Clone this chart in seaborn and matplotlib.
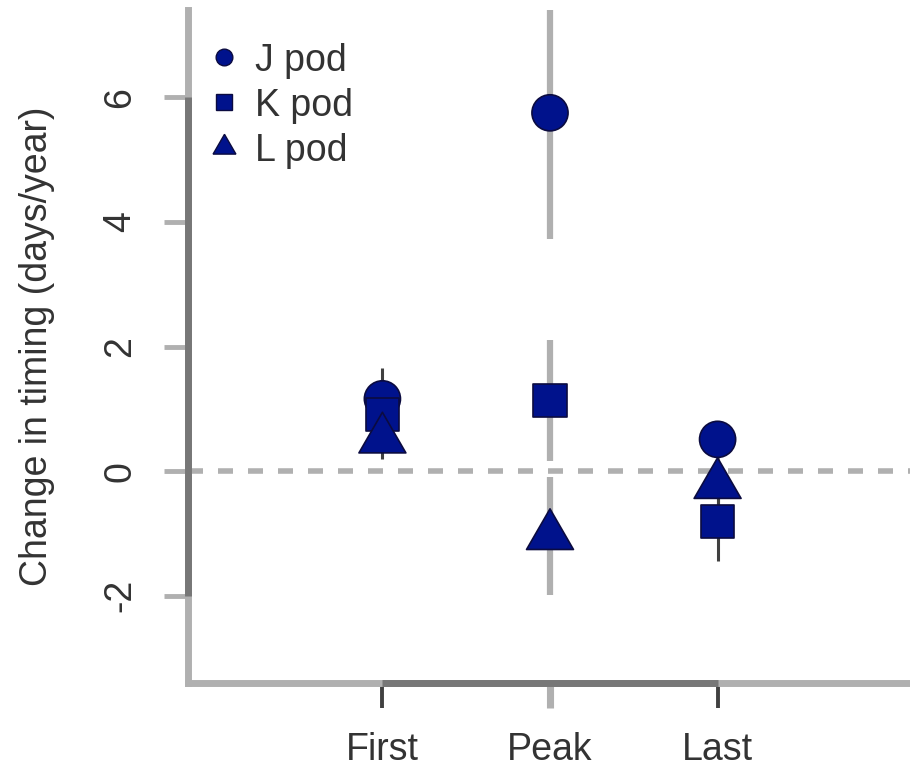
import matplotlib
matplotlib.use("Agg")
import matplotlib.pyplot as plt
from matplotlib.lines import Line2D
import numpy as np
import pandas as pd
import seaborn as sns

# Estimated change in timing per stage, with standard errors
stages = ["First", "Peak", "Last"]
pods = ["J pod", "K pod", "L pod"]
j_est = [1.16, 5.75, 0.51]
j_se = [0.50, 2.03, 0.30]
k_est = [0.91, 1.13, -0.81]
k_se = [0.40, 0.97, 0.63]
l_est = [0.51, -1.04, -0.22]
l_se = [0.31, 0.95, 0.42]
y_ticks = [-2, 0, 2, 4, 6]

sns.set_style("white")
plt.rcParams["font.family"] = ["Liberation Sans", "DejaVu Sans"]

navy = "#00128c"
edge = "#0b0b40"
light = "#b0b0b0"
dark = "#777777"
txt = "#333333"
bar_colors = ["#404040", light, "#404040"]
bar_widths = [2.2, 4.5, 2.2]

rows = []
for pod, est, se in zip(pods, [j_est, k_est, l_est], [j_se, k_se, l_se]):
    for st, e, s in zip(stages, est, se):
        rows.append({"stage": st, "pod": pod, "est": e, "se": s})
df = pd.DataFrame(rows)

fig = plt.figure(figsize=(9.1, 7.69), dpi=100)
ax = fig.add_axes([188 / 910, 86 / 769, 724 / 910, 673 / 769])

# error bars, coloured per stage
pos = {st: i for i, st in enumerate(stages)}
for st in stages:
    sub = df[df.stage == st]
    i = pos[st]
    ax.vlines(np.full(len(sub), i), sub.est - sub.se, sub.est + sub.se,
              color=bar_colors[i], lw=bar_widths[i], zorder=1)

markers = {"J pod": "o", "K pod": "s", "L pod": (3, 0, 0)}
sizes = {"J pod": 26 ** 2, "K pod": 24 ** 2, "L pod": 39 ** 2}
sns.scatterplot(data=df, x="stage", y="est", style="pod", markers=markers,
                size="pod", sizes=sizes, color=navy, edgecolor=edge,
                linewidth=1.2, legend=False, ax=ax, zorder=3)

ax.axhline(0, color=light, lw=4, ls=(0, (2.7, 2.7)), zorder=0)

ax.set_xlim(-1.16, 3.16)
ax.set_ylim(-3.4, 7.4)
ax.set_yticks(y_ticks)
ax.set_yticklabels([str(t) for t in y_ticks])
ax.set_xticks(range(len(stages)))
ax.set_xticklabels(stages)

for side in ["top", "right"]:
    ax.spines[side].set_visible(False)
for side in ["left", "bottom"]:
    ax.spines[side].set_color(light)
    ax.spines[side].set_linewidth(5)

# darker axis segments spanning the tick range
ax.plot([0, 0], [y_ticks[0], y_ticks[-1]], transform=ax.get_yaxis_transform(),
        color=dark, lw=5, clip_on=False, solid_capstyle="butt", zorder=5)
ax.plot([0, len(stages) - 1], [0, 0], transform=ax.get_xaxis_transform(),
        color=dark, lw=5, clip_on=False, solid_capstyle="butt", zorder=5)

ax.tick_params(axis="y", left=True, direction="out", length=17, width=3.5,
               color=light, labelsize=27, labelcolor=txt, labelrotation=90,
               pad=19)
ax.tick_params(axis="x", bottom=True, direction="out", length=18, width=2.5,
               color="#404040", labelsize=27, labelcolor=txt, pad=17)
for lab in ax.get_yticklabels():
    lab.set_va("center")
for i, tk in enumerate(ax.xaxis.get_major_ticks()):
    tk.tick1line.set_markeredgecolor(bar_colors[i])
    tk.tick1line.set_markeredgewidth(bar_widths[i] + 0.6)

ax.set_xlabel("")
ax.set_ylabel("Change in timing (days/year)", fontsize=27, color=txt,
              labelpad=34)

handles = [
    Line2D([], [], marker="o", ls="", color=navy, mec=edge, ms=12),
    Line2D([], [], marker="s", ls="", color=navy, mec=edge, ms=11),
    Line2D([], [], marker=(3, 0, 0), ls="", color=navy, mec=edge, ms=19),
]
ax.legend(handles, pods, loc="upper left", bbox_to_anchor=(-0.013, 0.985),
          frameon=False, fontsize=27, handletextpad=0.25, labelspacing=0.24,
          handlelength=1.2, borderaxespad=0.2, labelcolor=txt)

fig.savefig("out.png", dpi=100)
